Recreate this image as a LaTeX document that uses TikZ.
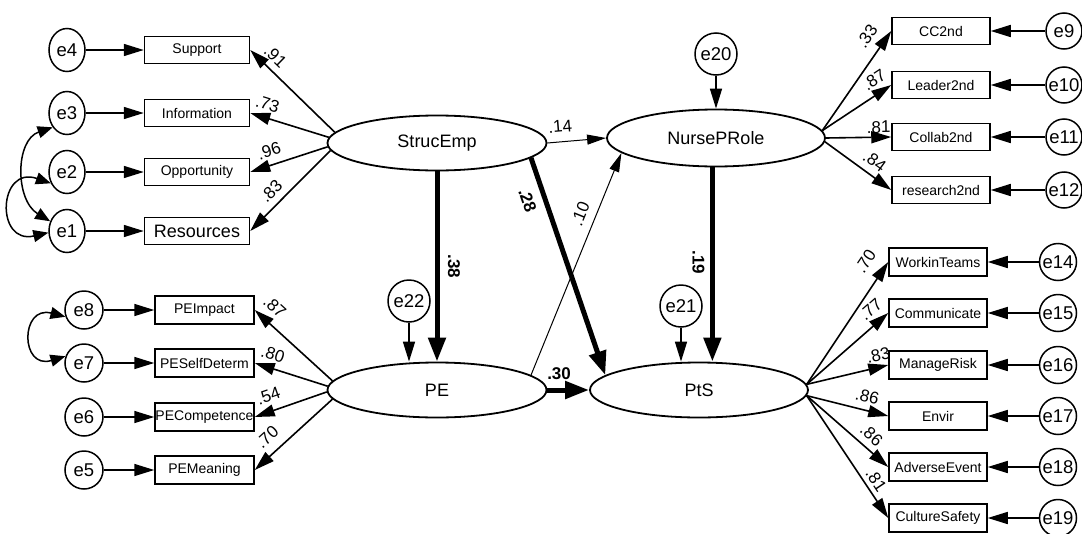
\documentclass[tikz,border=0pt]{standalone}
\usepackage{fontspec}
\setmainfont{Liberation Sans}
\usetikzlibrary{shapes.geometric,arrows.meta}
\begin{document}
\begin{tikzpicture}[x=1pt,y=1pt,
 lat/.style={ellipse,draw,line width=1.8pt,minimum width=219pt,minimum height=55pt,inner sep=0pt,font=\fontsize{18}{20}\selectfont},
 box/.style={rectangle,draw,line width=1.5pt,minimum height=27pt,inner sep=0pt,font=\fontsize{14}{16}\selectfont},
 boxL/.style={box,minimum width=105pt},
 boxP/.style={box,minimum width=99pt,minimum height=28pt},
 boxR/.style={box,minimum width=98pt},
 boxS/.style={box,minimum width=98pt,minimum height=28pt},
 errA/.style={ellipse,draw,line width=1.5pt,minimum width=36pt,minimum height=43pt,inner sep=0pt,font=\fontsize{18.5}{20}\selectfont},
 errB/.style={circle,draw,line width=1.5pt,minimum size=#1,inner sep=0pt,font=\fontsize{18.5}{20}\selectfont},
 arr/.style={line width=1.6pt,-{Triangle[length=20pt,width=12pt]}},
 tarr/.style={line width=5pt,-{Triangle[length=24pt,width=17pt]}},
 narr/.style={line width=1pt,-{Triangle[length=19pt,width=10pt]}},
 cov/.style={line width=1.5pt,{Triangle[length=15pt,width=12pt]}-{Triangle[length=15pt,width=12pt]}},
 lab/.style={sloped,anchor=south,inner sep=1pt,outer sep=#1,font=\fontsize{17}{19}\selectfont},
 lab/.default=6pt,
 labB/.style={sloped,anchor=north,inner sep=1pt,outer sep=#1,font=\fontsize{17}{19}\selectfont\bfseries},
 labT/.style={sloped,anchor=south,inner sep=1pt,outer sep=#1,font=\fontsize{17}{19}\selectfont\bfseries},
 labV/.style={rotate=-90,inner sep=1pt,outer sep=#1,font=\fontsize{17}{19}\selectfont\bfseries}
]
\fill[white] (0,0) rectangle (1082,-533);
\useasboundingbox (0,0) rectangle (1082,-533);

% latent variables
\node[lat] (se) at (437,-143) {StrucEmp};
\node[lat] (pe) at (437,-390) {PE};
\node[lat,minimum width=218pt,minimum height=57pt] (nr) at (716,-138) {NursePRole};
\node[lat,minimum width=218pt] (pts) at (699,-390) {PtS};

% left top indicators
\node[boxL] (sup) at (197,-50) {Support};
\node[boxL] (inf) at (197,-113) {Information};
\node[boxL] (opp) at (197,-172) {Opportunity};
\node[boxL,font=\fontsize{18}{20}\selectfont] (res) at (197,-231) {Resources};
\node[errA] (e4) at (67,-50) {e4};
\node[errA] (e3) at (67,-113) {e3};
\node[errA] (e2) at (67,-172) {e2};
\node[errA] (e1) at (67,-231) {e1};

% left bottom indicators
\node[boxP] (pim) at (204.5,-310) {PEImpact};
\node[boxP] (psd) at (204.5,-363) {PESelfDeterm};
\node[boxP] (pco) at (204.5,-417) {PECompetence};
\node[boxP] (pme) at (204.5,-470) {PEMeaning};
\node[errB=38pt] (e8) at (84,-310) {e8};
\node[errB=38pt] (e7) at (84,-363) {e7};
\node[errB=38pt] (e6) at (84,-417) {e6};
\node[errB=38pt] (e5) at (84,-470) {e5};

% right top indicators
\node[boxR] (cc) at (941,-31) {CC2nd};
\node[boxR] (ld) at (941,-85) {Leader2nd};
\node[boxR] (cb) at (941,-137) {Collab2nd};
\node[boxR] (rs) at (941,-190) {research2nd};
\node[errB=36pt] (e9) at (1064,-31) {e9};
\node[errB=36pt] (e10) at (1064,-85) {e10};
\node[errB=36pt] (e11) at (1064,-137) {e11};
\node[errB=36pt] (e12) at (1064,-190) {e12};

% right bottom indicators
\node[boxS] (wt) at (938,-262) {WorkinTeams};
\node[boxS] (cm) at (938,-313) {Communicate};
\node[boxS] (mr) at (938,-365) {ManageRisk};
\node[boxS] (ev) at (938,-416) {Envir};
\node[boxS] (ae) at (938,-467) {AdverseEvent};
\node[boxS] (cs) at (938,-518) {CultureSafety};
\node[errB=37pt] (e14) at (1058,-262) {e14};
\node[errB=37pt] (e15) at (1058,-313) {e15};
\node[errB=37pt] (e16) at (1058,-365) {e16};
\node[errB=37pt] (e17) at (1058,-416) {e17};
\node[errB=37pt] (e18) at (1058,-467) {e18};
\node[errB=37pt] (e19) at (1058,-518) {e19};

% structural errors
\node[errB=42pt] (e20) at (716,-54) {e20};
\node[errB=42pt] (e21) at (681,-306) {e21};
\node[errB=42pt] (e22) at (409,-301) {e22};

% error arrows
\foreach \e/\b in {e4/sup,e3/inf,e2/opp,e1/res,e8/pim,e7/psd,e6/pco,e5/pme,
  e9/cc,e10/ld,e11/cb,e12/rs,e14/wt,e15/cm,e16/mr,e17/ev,e18/ae,e19/cs}
  \draw[arr] (\e) -- (\b);
\draw[arr] (e20) -- (nr);
\draw[arr] (e21) -- (e21 |- pts.north);
\draw[arr] (e22) -- (e22 |- pe.north);

% covariances
\draw[cov] (e3.225) .. controls (15,-140) and (15,-200) .. (e1.150);
\draw[cov] (e2.215) .. controls (-2,-165) and (-5,-245) .. (e1.185);
\draw[cov] (e8.200) .. controls (20,-305) and (20,-370) .. (e7.160);

% StrucEmp loadings
\draw[arr] (se.174) -- node[lab=6pt,pos=0.81] {.91} (sup.east);
\draw[arr] (se.177) -- node[lab=6.5pt,pos=0.83] {.73} (inf.east);
\draw[arr] (se.182) -- node[lab=7pt,pos=0.70] {.96} (opp.east);
\draw[arr] (se.184) -- node[lab=6.5pt,pos=0.62] {.83} (res.east);

% PE loadings
\draw[arr] (pe.175) -- node[lab=9pt,pos=0.88] {.87} (pim.east);
\draw[arr] (pe.178) -- node[lab=7pt,pos=0.81] {.80} (psd.east);
\draw[arr] (pe.181) -- node[lab=8.5pt,pos=0.74] {.54} (pco.east);
\draw[arr] (pe.185) -- node[lab=9pt,pos=0.70] {.70} (pme.east);

% NursePRole loadings
\draw[arr] (nr.4) -- node[lab=10pt,pos=0.85] {.33} (cc.west);
\draw[arr] (nr.4) -- node[lab=6.5pt,pos=0.86] {.87} (ld.west);
\draw[arr] (nr.0) -- node[lab=3pt,pos=0.81] {.81} (cb.west);
\draw[arr] (nr.358) -- node[lab=6.5pt,pos=0.63] {.84} (rs.west);

% PtS loadings
\draw[arr] (pts.3) -- node[lab=12.5pt,pos=0.92] {.70} (wt.west);
\draw[arr] (pts.3) -- node[lab=7.5pt,pos=0.90] {.77} (cm.west);
\draw[arr] (pts.3) -- node[lab=5pt,pos=0.91] {.83} (mr.west);
\draw[arr] (pts.357) -- node[lab=7pt,pos=0.70] {.86} (ev.west);
\draw[arr] (pts.357) -- node[lab=6pt,pos=0.69] {.86} (ae.west);
\draw[arr] (pts.357) -- node[lab=4pt,pos=0.74] {.81} (cs.west);

% structural paths
\draw[narr] (se.east) -- node[lab=8.5pt,pos=0.24] {.14} (nr.west);
\draw[tarr] (se.south) -- node[labV=10pt,anchor=south,pos=0.5] {.38} (pe.north);
\draw[tarr] (se.351) -- node[labB=10pt,pos=0.17] {.28} (pts.171);
\draw[narr] (pe.9) -- node[lab=8pt,pos=0.70] {.10} (nr.189);
\draw[tarr] (nr.263) -- node[labV=7pt,anchor=north,pos=0.49] {.19} (nr.263 |- pts.north);
\draw[tarr] (pe.east) -- node[labT=9pt,pos=0.28] {.30} (pts.west);
\end{tikzpicture}
\end{document}
